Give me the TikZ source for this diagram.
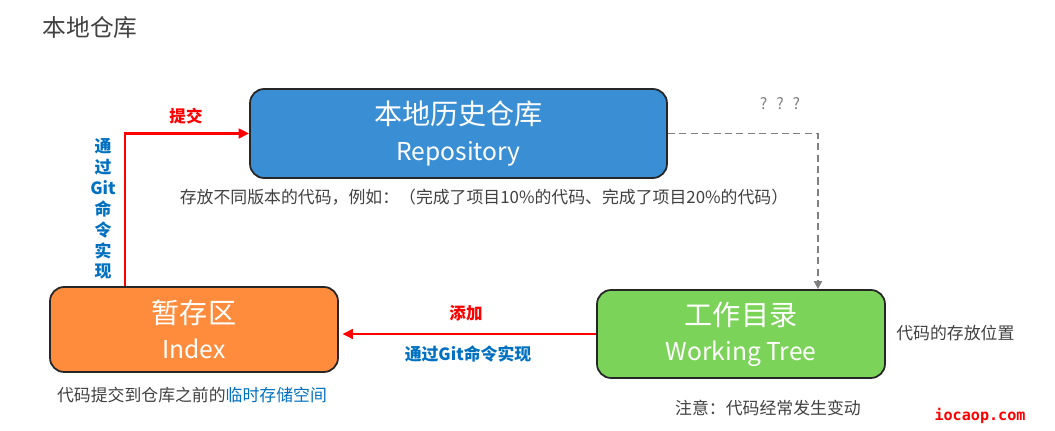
\documentclass[tikz,border=0pt]{standalone}
\usepackage{fontspec}
\setmainfont{Noto Sans CJK SC}
\newfontfamily\wmfont{DejaVu Sans Mono}
\usetikzlibrary{arrows.meta,positioning}
\definecolor{repoblue}{RGB}{58,142,212}
\definecolor{idxorange}{RGB}{255,140,60}
\definecolor{wtgreen}{RGB}{124,211,89}
\definecolor{cmdblue}{RGB}{0,112,192}
\definecolor{txtgray}{RGB}{64,64,64}
\newcommand\subsz{\fontsize{14}{20}\selectfont}

\begin{document}
\begin{tikzpicture}[
    x=0.02cm, y=-0.02cm,
    box/.style={draw=black!85, line width=1pt, rounded corners=8pt, align=center, text=white, inner sep=0pt, font=\fontsize{16}{20}\selectfont},
    desc/.style={text=txtgray, font=\fontsize{9.6}{12}\selectfont, inner sep=0pt},
    act/.style={text=red, font=\bfseries\fontsize{9.4}{12}\selectfont, inner sep=0pt},
    cmd/.style={text=cmdblue, font=\bfseries\fontsize{9.6}{11.9}\selectfont, inner sep=0pt, align=center},
    redarr/.style={draw=red, line width=1.4pt, -{Triangle[length=6pt,width=5.5pt]}},
    grayarr/.style={draw=gray, line width=1.1pt, dash pattern=on 4pt off 2.5pt, -{Triangle[length=4.5pt,width=4.5pt]}}
  ]
    \useasboundingbox (0,0) rectangle (1055,431);

    \node[text=txtgray, font=\fontsize{13.5}{16}\selectfont] (title) at (90,28) {本地仓库};

    \node[box, fill=repoblue, minimum width=8.34cm, minimum height=1.78cm] (repo) at (458.5,133.5)
      {本地历史仓库\\{\subsz Repository}};
    \node[box, fill=idxorange, minimum width=5.76cm, minimum height=1.7cm] (index) at (194,329.5)
      {暂存区\\{\subsz Index}};
    \node[box, fill=wtgreen, minimum width=5.76cm, minimum height=1.76cm] (work) at (741,334)
      {工作目录\\{\subsz Working Tree}};

    \node[desc] (repodesc) at (484,197) {存放不同版本的代码，例如：（完成了项目10\%的代码、完成了项目20\%的代码）};
    \node[desc, anchor=west] (workdesc) at (896,333) {代码的存放位置};
    \node[desc] (worknote) at (768,408) {注意：代码经常发生变动};
    \node[desc] (indexdesc) at (192,395) {代码提交到仓库之前的\textcolor{cmdblue}{临时存储空间}};

    \draw[redarr] ([xshift=-1.38cm]index.north) |- (repo.west);
    \node[act] (commit) at (186,116) {提交};
    \node[cmd] (commitcmd) at (103,209) {通\\过\\Git\\命\\令\\实\\现};

    \draw[grayarr] (repo.east) -| ([xshift=1.54cm]work.north);
    \node[text=gray, font=\fontsize{9}{11}\selectfont] (unknown) at (780,104) {?\hspace{5pt}?\hspace{5pt}?};

    \draw[redarr] (work.west) -- ([xshift=2pt]work.west -| index.east);
    \node[act] (add) at (466,313) {添加};
    \node[cmd] (addcmd) at (468,354) {通过Git命令实现};

    \node[text=red, font=\wmfont\bfseries\fontsize{8.6}{10}\selectfont] (mark) at (980,416) {iocaop.com};
  \end{tikzpicture}
\end{document}
